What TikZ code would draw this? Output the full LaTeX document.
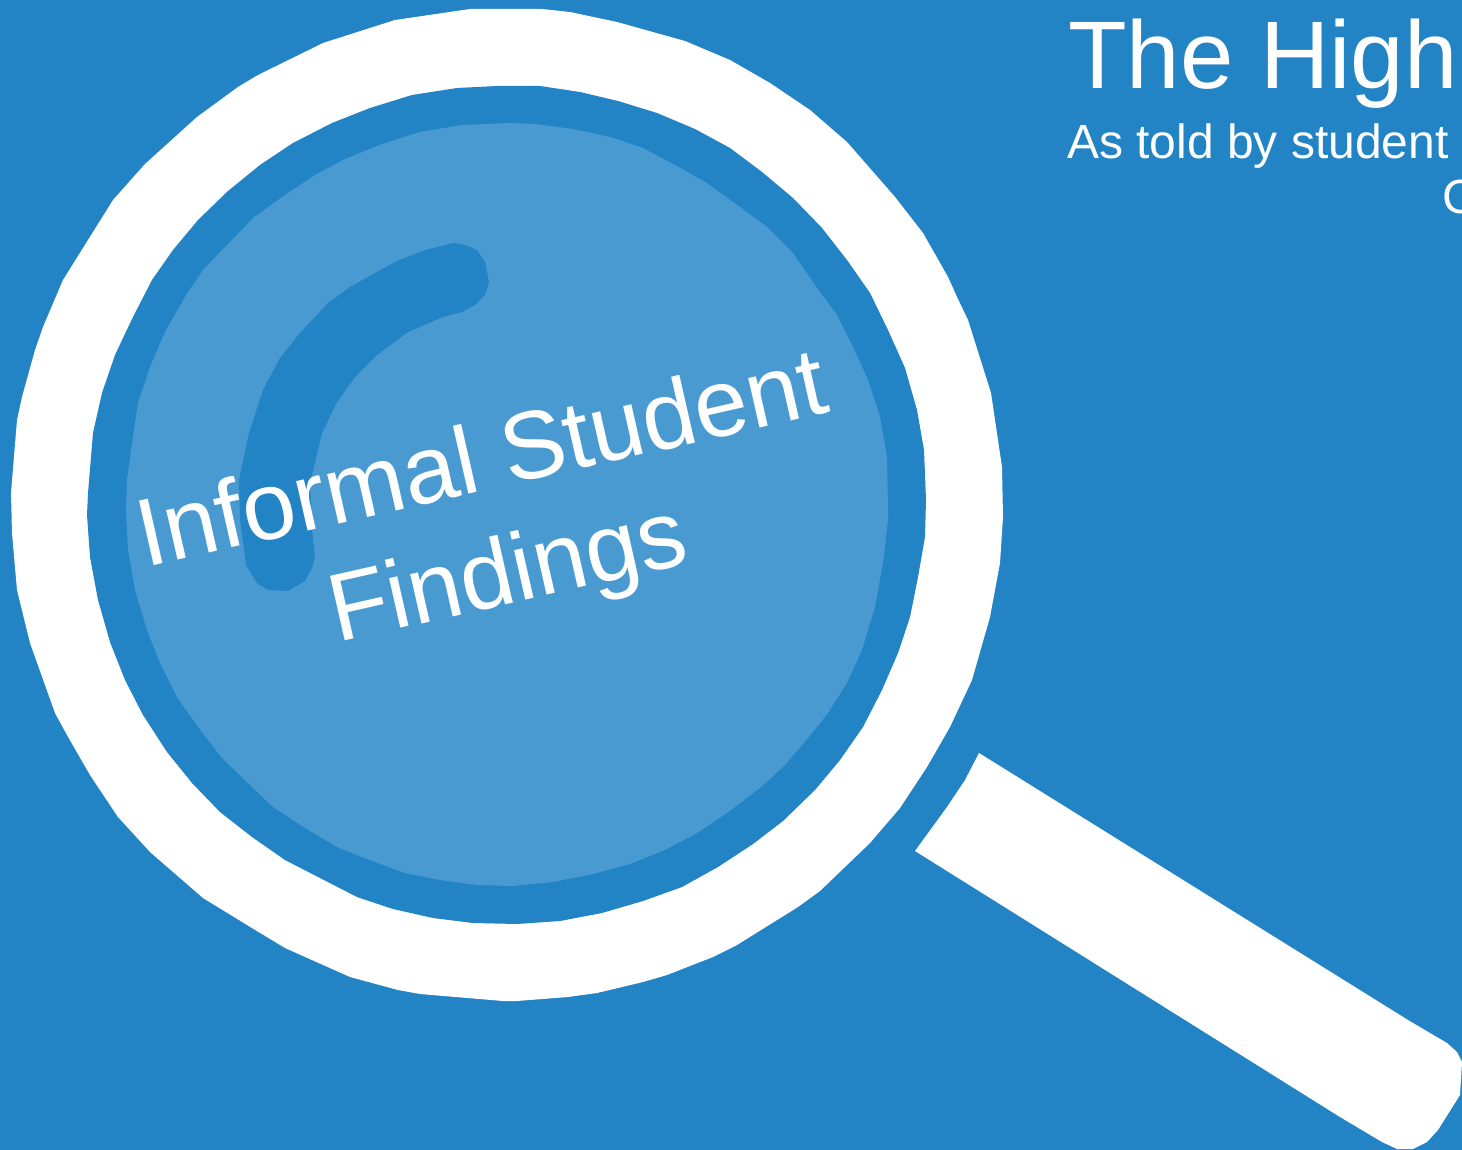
\documentclass[tikz,border=0pt]{standalone}
\usepackage{fontspec}
\setmainfont{Liberation Sans}
\definecolor{bgblue}{HTML}{2283C5}
\definecolor{lensblue}{HTML}{4A9AD2}
\tikzset{
  plain text/.style={text=white,inner sep=0pt,anchor=base west},
  lens label/.style={text=white,inner sep=0pt,align=center,rotate=12.8,font=\fontsize{96}{116}\selectfont}
}
\begin{document}
\begin{tikzpicture}[x=1pt,y=-1pt]
\useasboundingbox (0,0) rectangle (1462,1150);
\clip (0,0) rectangle (1462,1150);
\fill[bgblue] (0,0) rectangle (1462,1150);
% outer ring
\fill[white] (470,9)--(395,20)--(323,43)--(258,75)--(238,87)--(197,117)--(145,164)--(113,200)--(63,280)--(43,327)--(35,350)--(22,397)--(17,420)--(11,493)--(12,533)--(17,590)--(30,643)--(55,713)--(67,735)--(90,775)--(118,817)--(150,852)--(203,898)--(247,925)--(285,948)--(350,977)--(398,990)--(420,994)--(503,1001)--(517,1001)--(568,997)--(597,993)--(643,982)--(667,975)--(713,957)--(737,945)--(798,907)--(820,891)--(870,843)--(900,808)--(927,767)--(950,727)--(972,680)--(990,617)--(1000,563)--(1003,517)--(1002,467)--(991,393)--(968,320)--(957,297)--(948,277)--(923,233)--(895,197)--(847,142)--(810,110)--(770,83)--(730,60)--(685,41)--(617,22)--(570,12)--(542,9)--cycle;
% inner blue
\fill[bgblue] (497,86)--(457,88)--(412,95)--(370,108)--(332,123)--(293,143)--(260,165)--(228,191)--(198,220)--(173,250)--(152,280)--(133,317)--(115,355)--(102,393)--(93,433)--(88,493)--(87,515)--(90,557)--(98,600)--(110,642)--(125,680)--(143,715)--(167,752)--(192,783)--(220,812)--(252,837)--(285,860)--(320,878)--(357,897)--(393,909)--(433,918)--(473,923)--(517,924)--(560,921)--(602,913)--(643,901)--(682,887)--(718,867)--(753,844)--(783,821)--(815,790)--(840,760)--(863,727)--(882,690)--(898,653)--(910,617)--(918,577)--(925,537)--(926,500)--(924,450)--(917,410)--(905,368)--(888,330)--(870,293)--(847,260)--(822,228)--(793,198)--(762,172)--(730,148)--(695,129)--(657,113)--(618,101)--(580,92)--(540,86)--cycle;
% lens
\fill[lensblue] (510,123)--(462,125)--(420,132)--(382,144)--(345,159)--(315,175)--(285,195)--(253,218)--(230,242)--(203,270)--(185,297)--(165,332)--(150,367)--(138,403)--(132,443)--(127,480)--(126,513)--(128,550)--(135,590)--(147,630)--(160,663)--(177,697)--(198,727)--(222,758)--(248,783)--(273,807)--(305,828)--(337,847)--(370,860)--(405,873)--(440,880)--(477,885)--(513,886)--(553,882)--(593,874)--(630,864)--(665,850)--(697,833)--(727,813)--(760,788)--(785,765)--(808,738)--(828,713)--(847,683)--(862,650)--(875,607)--(883,563)--(888,520)--(888,510)--(887,457)--(880,417)--(868,380)--(853,347)--(837,315)--(815,285)--(793,253)--(767,227)--(740,207)--(707,183)--(675,165)--(643,148)--(610,137)--(573,129)--(535,124)--cycle;
% highlight
\fill[bgblue] (453,243)--(462,244)--(477,250)--(485,262)--(489,282)--(485,295)--(475,305)--(462,312)--(443,317)--(408,332)--(377,355)--(355,377)--(337,402)--(322,433)--(310,483)--(312,530)--(315,557)--(312,568)--(305,581)--(288,591)--(268,590)--(257,583)--(246,565)--(240,520)--(239,480)--(249,433)--(263,390)--(280,358)--(300,333)--(328,303)--(350,287)--(395,262)--(422,251)--cycle;
% handle
\fill[white] (979,753)--(1408,1020)--(1447,1043)--(1457,1052)--(1462,1062)--(1460,1095)--(1438,1130)--(1427,1142)--(1413,1149)--(1397,1149)--(1382,1142)--(1340,1117)--(915,851)--(947,807)--(965,780)--cycle;
% text
\node[plain text,font=\fontsize{96}{96}\selectfont] (title) at (1068,89) {The High};
\node[plain text,font=\fontsize{48}{48}\selectfont] (sub) at (1067,159) {As told by student};
\node[plain text,font=\fontsize{48}{48}\selectfont] (subb) at (1442,214) {C};
\node[lens label] (lens) at (496,522) {Informal Student\\Findings};
\end{tikzpicture}
\end{document}
